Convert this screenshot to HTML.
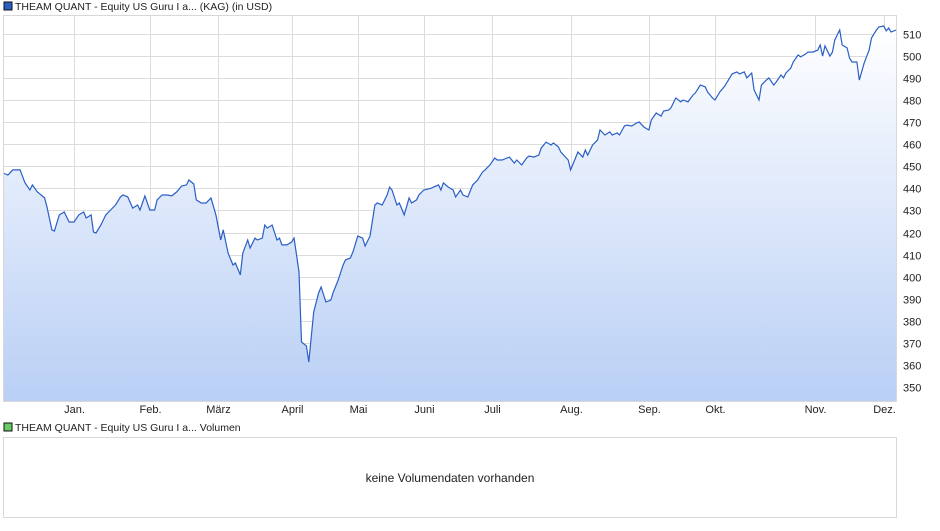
<!DOCTYPE html>
<html><head><meta charset="utf-8"><style>
body{margin:0;background:#fff;font-family:"Liberation Sans",Arial,sans-serif;}
svg text{font-family:"Liberation Sans",Arial,sans-serif;font-size:11px;fill:#222;}
svg text.leg{font-size:10.5px;}
</style></head><body>
<svg id="chart" width="940" height="526" xmlns="http://www.w3.org/2000/svg">
<defs><linearGradient id="fillg" x1="0" y1="0" x2="0" y2="1">
<stop offset="0" stop-color="#ffffff"/><stop offset="1" stop-color="#b9cff5"/></linearGradient></defs>
<rect x="4" y="2" width="8" height="8" fill="#2a5fc5" stroke="#111" stroke-width="1"/>
<text class="leg" x="15" y="10">THEAM QUANT - Equity US Guru I a... (KAG) (in USD)</text>
<g id="grid"></g>
<path id="area" fill="url(#fillg)"/>
<path id="line" fill="none" stroke="#2a5fc5" stroke-width="1.2"/>
<rect x="3.5" y="15.5" width="893" height="386" fill="none" stroke="#d8d8d8"/>
<g id="yticks"></g><g id="xticks"></g>
<rect x="4" y="423" width="8" height="8" fill="#66cc66" stroke="#111" stroke-width="1"/>
<text class="leg" x="15" y="431">THEAM QUANT - Equity US Guru I a... Volumen</text>
<rect x="3.5" y="437.5" width="893" height="80" fill="#fff" stroke="#d8d8d8"/>
<text x="450" y="482" text-anchor="middle" style="font-size:12px">keine Volumendaten vorhanden</text>
</svg>
<script>
const yTicks=[350,360,370,380,390,400,410,420,430,440,450,460,470,480,490,500,510];
const months=["Jan.","Feb.","März","April","Mai","Juni","Juli","Aug.","Sep.","Okt.","Nov.","Dez."];
const monthDays=[29,60,88,118,145,172,200,232,264,291,332,360];
const days=[0,2,4,7,9,11,12,14,17,18,20,21,23,25,27,29,31,33,34,36,37,38,40,42,44,46,48,49,51,53,55,56,58,60,62,63,65,67,69,71,73,75,76,78,79,81,83,85,87,89,90,92,94,95,97,98,100,101,103,104,106,107,108,110,112,113,114,116,118,119,121,122,124,125,127,129,130,132,134,135,137,139,140,142,143,145,147,148,150,152,153,155,157,158,159,161,162,164,166,167,169,170,172,175,176,178,179,180,182,184,185,187,188,190,192,194,196,197,199,201,202,204,206,207,209,210,212,214,215,217,219,220,222,224,225,227,228,231,232,234,235,237,238,239,241,243,244,246,248,249,251,252,254,255,257,259,260,262,264,265,267,269,270,272,273,275,277,278,280,282,283,285,287,288,290,291,293,295,296,298,300,301,303,304,306,307,309,310,312,313,315,316,318,319,320,322,323,325,326,328,329,331,333,334,335,336,338,339,340,342,343,345,346,347,349,350,352,354,355,357,358,360,361,362,363,365];
const values=[447.0,446.1,448.4,448.4,442.5,439.3,441.6,438.4,435.7,431.6,421.2,420.7,428.0,429.3,424.8,424.8,428.0,429.3,426.6,428.0,420.2,419.8,423.4,428.0,430.2,432.5,436.1,437.0,436.1,431.1,432.5,430.2,436.6,430.2,430.2,434.8,437.0,437.0,436.6,438.4,441.1,441.6,443.8,442.0,434.8,433.4,433.4,435.7,428.0,416.6,421.2,410.7,405.3,406.2,400.8,410.7,416.6,413.0,417.5,416.6,417.5,423.4,422.0,423.4,416.6,417.5,414.4,414.4,415.7,417.5,402.1,370.4,368.6,361.3,384.0,392.6,395.3,388.5,389.4,393.0,398.5,405.3,407.6,408.5,411.2,418.4,417.5,413.9,418.4,432.5,433.4,432.5,437.0,440.6,439.3,432.5,433.4,428.0,435.7,433.4,434.8,437.0,439.3,440.1,440.6,441.6,439.3,442.5,440.6,439.3,436.1,439.3,437.0,436.1,441.6,443.8,447.4,448.4,450.6,453.8,452.9,452.9,453.8,454.2,451.5,452.9,450.6,453.8,454.7,454.2,455.1,458.3,461.0,459.7,460.6,458.8,456.5,452.9,448.4,453.8,456.5,454.2,457.4,455.1,459.7,461.9,466.5,464.2,465.6,464.2,465.1,464.2,468.3,468.7,468.3,469.7,470.1,467.8,466.5,471.0,474.2,472.8,475.1,475.5,476.5,481.0,479.2,480.1,479.2,482.3,483.3,486.9,486.0,483.7,481.0,480.1,483.7,486.4,488.2,491.9,492.8,491.9,492.8,490.1,492.3,484.6,480.1,486.9,489.1,490.1,486.9,488.2,491.4,490.1,492.3,494.6,497.3,500.5,499.6,500.9,501.8,501.8,502.7,505.0,500.0,504.6,500.0,501.8,507.3,511.8,505.0,503.7,499.1,497.3,497.3,489.1,496.9,502.7,508.2,511.8,513.2,513.6,511.4,512.7,510.9,511.8];
const X0=3,X1=896,Y0=15,Y1=401;
const yS=v=>34+(510-v)*2.206;
const xS=d=>X0+(X1-X0)*d/365;
const ns="http://www.w3.org/2000/svg";
const grid=document.getElementById('grid'),yt=document.getElementById('yticks'),xt=document.getElementById('xticks');
function mk(t,a,p){const e=document.createElementNS(ns,t);for(const k in a)e.setAttribute(k,a[k]);p.appendChild(e);return e;}
yTicks.forEach(v=>{const y=Math.round(yS(v))+0.5;
const l=mk('line',{x1:X0,x2:X1,y1:y,y2:y,stroke:'#dcdcdc'},grid);


const t=mk('text',{x:903,y:y+4},yt);t.textContent=v;

});
months.forEach((m,i)=>{const x=Math.round(xS(monthDays[i]))+0.5;
const l=mk('line',{x1:x,x2:x,y1:Y0,y2:Y1,stroke:'#dcdcdc'},grid);


const t=mk('text',{x:x,y:413,'text-anchor':'middle'},xt);t.textContent=m;

});
let d='';values.forEach((v,i)=>{d+=(i?'L':'M')+xS(days[i]).toFixed(1)+','+yS(v).toFixed(1);});
document.getElementById('line').setAttribute('d',d);
document.getElementById('area').setAttribute('d',d+'L'+xS(days[days.length-1]).toFixed(1)+','+Y1+'L'+X0+','+Y1+'Z');
</script>
</body></html>
